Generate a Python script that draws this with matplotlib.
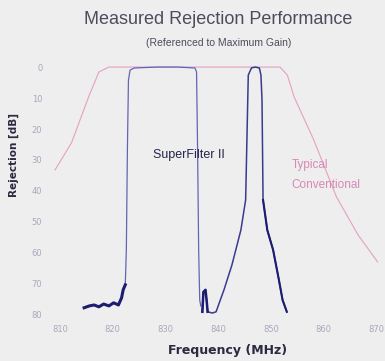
import matplotlib
matplotlib.use("Agg")
from matplotlib import pyplot as plt

# SuperFilter II, main passband (frequency MHz, rejection dB)
sf_freq = [814.6, 815.6, 816.5, 817.4, 818.3, 819.3, 820.2, 821.1, 821.7, 822.0,
           822.4, 822.6, 822.8, 823.0, 823.3, 824.1, 828.5, 832.2, 835.6, 835.9,
           836.1, 836.3, 836.5, 836.7]
sf_rej = [77.7, 77.1, 76.8, 77.4, 76.5, 77.1, 76.1, 76.8, 74.5, 71.9,
          70.3, 59.0, 26.8, 4.2, 1.0, 0.3, 0.0, 0.0, 0.3, 1.6,
          26.8, 59.0, 75.2, 77.1]

# SuperFilter II, narrow passband
nb_freq = [837.0, 837.2, 837.6, 837.8, 838.0, 838.9, 839.6, 841.1, 842.6, 844.3,
           845.2, 845.4, 845.6, 845.7, 846.3, 847.0, 847.8, 848.1, 848.3, 848.4,
           848.5, 849.3, 850.4, 851.5, 852.2, 853.0]
nb_rej = [79.0, 72.6, 71.9, 75.2, 79.0, 79.4, 79.0, 71.9, 63.9, 52.6,
          42.9, 26.8, 10.6, 2.6, 0.3, 0.0, 0.3, 2.6, 10.6, 26.8,
          42.9, 52.6, 59.0, 68.7, 75.2, 79.0]

# typical conventional filter
cv_freq = [809.1, 812.2, 815.6, 817.4, 819.3, 851.7, 853.1, 854.4, 858.1, 862.4, 866.5, 870.2]
cv_rej = [33.2, 24.5, 9.0, 1.6, 0.0, 0.0, 2.6, 9.7, 23.5, 41.9, 54.2, 62.9]

x_ticks = [810, 820, 830, 840, 850, 860, 870]
y_ticks = [0, 10, 20, 30, 40, 50, 60, 70, 80]

bg = '#eeeeee'
fig = plt.figure(figsize=(3.85, 3.61), dpi=100, facecolor=bg)
ax = fig.add_axes([0.117, 0.108, 0.883, 0.726], facecolor=bg)

ax.plot(cv_freq, cv_rej, color='#e48cb8', lw=0.8, alpha=0.8)
ax.plot(sf_freq, sf_rej, color='#6464b4', lw=0.9)
ax.plot(sf_freq[:11], sf_rej[:11], color='#1c1c70', lw=2.2)
ax.plot(nb_freq, nb_rej, color='#3a3a90', lw=1.1)
ax.plot(nb_freq[:5], nb_rej[:5], color='#1c1c70', lw=1.8)
ax.plot(nb_freq[-6:], nb_rej[-6:], color='#1c1c70', lw=1.5)

ax.text(834.4, 28.4, 'SuperFilter II', ha='center', va='center',
        fontsize=9, color='#25254a', family='Liberation Sans')
ax.text(853.9, 31.6, 'Typical', ha='left', va='center',
        fontsize=8.5, color='#d888b4', family='Liberation Sans')
ax.text(853.9, 38.1, 'Conventional', ha='left', va='center',
        fontsize=8.5, color='#d888b4', family='Liberation Sans')

ax.set_xlim(807.2, 871.6)
ax.set_ylim(82.3, -2.3)
ax.set_xticks(x_ticks)
ax.set_yticks(y_ticks)
ax.tick_params(length=0, labelsize=6, labelcolor='#a8a8bc', pad=2)
for s in ax.spines.values():
    s.set_visible(False)

fig.text(0.566, 0.945, 'Measured Rejection Performance', ha='center', va='center',
         fontsize=13, color='#4c4c5e', family='Liberation Sans')
fig.text(0.569, 0.88, '(Referenced to Maximum Gain)', ha='center', va='center',
         fontsize=7.5, color='#4c4c5e', family='Liberation Sans')
fig.text(0.036, 0.57, 'Rejection [dB]', rotation=90, ha='center', va='center',
         fontsize=7.5, fontweight='bold', color='#2a2a40')
fig.text(0.592, 0.03, 'Frequency (MHz)', ha='center', va='center',
         fontsize=9, fontweight='bold', color='#2a2a40')

fig.savefig('out.png', dpi=100, facecolor=bg)
